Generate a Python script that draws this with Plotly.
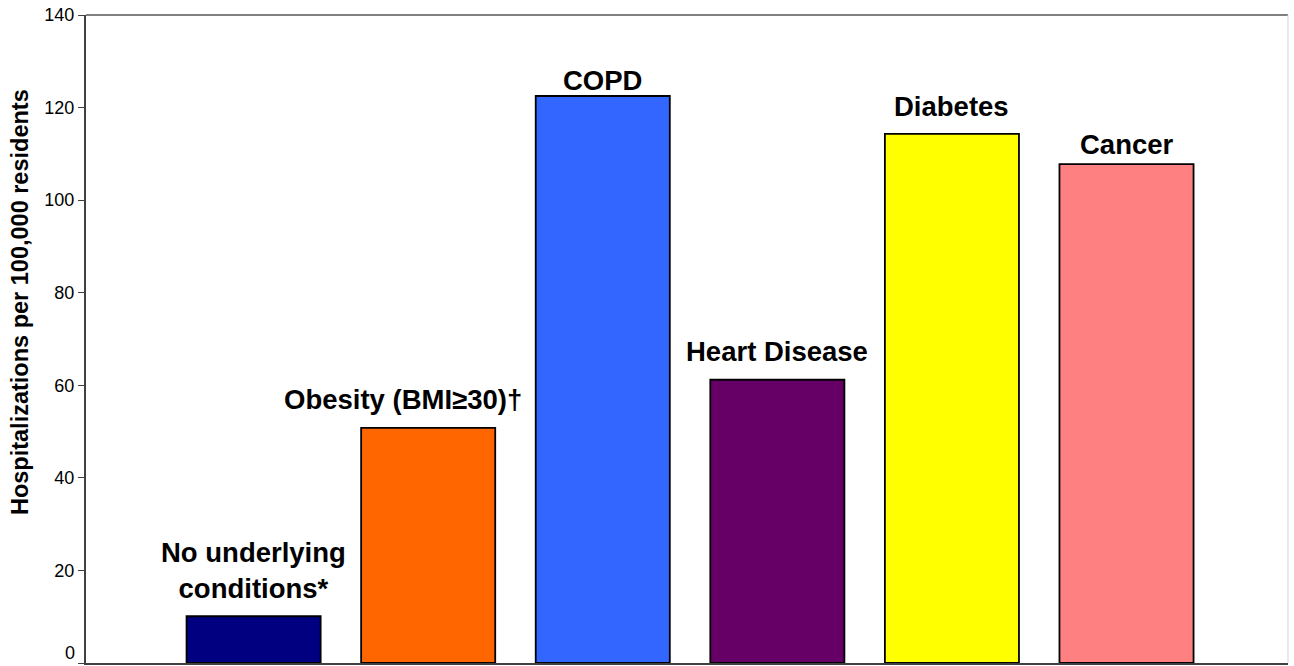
import plotly.graph_objects as go

categories = ["No underlying conditions*", "Obesity (BMI≥30)†", "COPD",
              "Heart Disease", "Diabetes", "Cancer"]
label_text = ["No underlying<br>conditions*", "Obesity (BMI≥30)†", "COPD",
              "Heart Disease", "Diabetes", "Cancer"]
values = [10.1, 50.8, 122.5, 61.2, 114.3, 107.8]
colors = ["#000080", "#FF6600", "#3366FF", "#660066", "#FFFF00", "#FF8080"]
y_ticks = [0, 20, 40, 60, 80, 100, 120, 140]
y_title = "Hospitalizations per 100,000 residents"

# label placement (pixel offsets above bar tops)
label_yshift = [46, 28, 16, 28, 27, 20]
label_xshift = [0, -25, 0, 0, 0, 0]

FONT = "Arial, 'Liberation Sans', sans-serif"

fig = go.Figure()
fig.add_trace(go.Bar(
    x=categories, y=values, width=0.768,
    marker=dict(color=colors, line=dict(color="#000000", width=1.8)),
    hoverinfo="x+y",
))

for cat, txt, v, ys, xs in zip(categories, label_text, values, label_yshift, label_xshift):
    fig.add_annotation(x=cat, y=v, text="<b>" + txt + "</b>", showarrow=False,
                       yanchor="middle", xanchor="center", yshift=ys, xshift=xs,
                       font=dict(family=FONT, size=27.5, color="#000000"))

# y axis title (placed as in the original, above centre)
fig.add_annotation(xref="paper", yref="paper", x=0, y=0.557, xshift=-66,
                   text="<b>" + y_title + "</b>", textangle=-90, showarrow=False,
                   xanchor="center", yanchor="middle",
                   font=dict(family=FONT, size=23.5, color="#000000"))

# lowest tick label (kept just inside the page bottom)
fig.add_annotation(xref="paper", yref="y", x=0, y=y_ticks[0], xshift=-10, yshift=-1,
                   text=str(y_ticks[0]), showarrow=False,
                   xanchor="right", yanchor="bottom", borderpad=0,
                   font=dict(family=FONT, size=18, color="#000000"))

# top and right borders of the plot area
fig.add_shape(type="line", xref="paper", yref="paper", x0=0, x1=1, y0=1, y1=1,
              line=dict(color="#808080", width=2))
fig.add_shape(type="line", xref="paper", yref="paper", x0=1, x1=1, y0=0, y1=1,
              line=dict(color="#D4D4D4", width=1))

fig.update_layout(
    width=1294, height=666,
    margin=dict(l=86, r=6, t=15, b=3, autoexpand=False),
    paper_bgcolor="white", plot_bgcolor="white",
    showlegend=False, bargap=0.232,
    font=dict(family=FONT, color="#000000"),
)
fig.update_xaxes(
    type="category", range=[-0.96, 5.925], showticklabels=False,
    showline=True, linecolor="#404040", linewidth=2, ticks="", showgrid=False,
    zeroline=False,
)
fig.update_yaxes(
    range=[0, 140], tickvals=y_ticks, ticks="outside", ticklen=6,
    tickcolor="#404040", tickwidth=1,
    showline=True, linecolor="#404040", linewidth=2, showgrid=False,
    zeroline=False, tickfont=dict(family=FONT, size=18, color="#000000"),
)

fig.write_html("out.html", config={"displayModeBar": False},
               post_script="document.body.style.margin='0';document.body.style.overflow='hidden';")
